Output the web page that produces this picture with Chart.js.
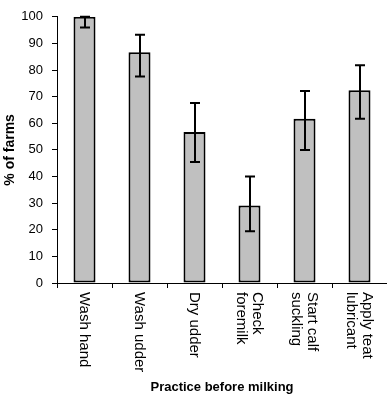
<!DOCTYPE html>
<html>
<head>
<meta charset="utf-8">
<script src="https://cdn.jsdelivr.net/npm/chart.js@4/dist/chart.umd.min.js"></script>
<style>
  html, body { margin: 0; padding: 0; background: #fff; }
  #wrap { width: 387px; height: 395px; }
</style>
</head>
<body>
<div id="wrap"><canvas id="grafico"></canvas></div>
<script>
// data
const categories = [['Wash hand'], ['Wash udder'], ['Dry udder'], ['Check', 'foremilk'], ['Start calf', 'suckling'], ['Apply teat', 'lubricant']];
const farmPct = [100, 86.7, 56.7, 29.1, 61.7, 72.4];
const errLow = [96, 77.6, 45.5, 19.4, 50, 61.7];
const errHigh = [100, 93.3, 67.6, 40, 72.1, 81.8];
const yTicks = [0, 10, 20, 30, 40, 50, 60, 70, 80, 90, 100];

const FONT = "Arial, 'Liberation Sans', sans-serif";
const NARROW = "'Liberation Sans Narrow', 'Arial Narrow', Arial, sans-serif";

// whiskers with caps
const errorBars = {
  id: 'errorBars',
  afterDatasetsDraw(chart) {
    const ctx = chart.ctx;
    const y = chart.scales.y;
    const meta = chart.getDatasetMeta(0);
    ctx.save();
    ctx.strokeStyle = '#000';
    ctx.lineWidth = 2;
    meta.data.forEach((bar, i) => {
      const x = Math.round(bar.x);
      const yLo = y.getPixelForValue(errLow[i]);
      const yHi = y.getPixelForValue(errHigh[i]);
      ctx.beginPath();
      ctx.moveTo(x, yLo); ctx.lineTo(x, yHi);
      ctx.moveTo(x - 5, yLo); ctx.lineTo(x + 5, yLo);
      ctx.moveTo(x - 5, yHi); ctx.lineTo(x + 5, yHi);
      ctx.stroke();
    });
    ctx.restore();
  }
};

// category labels turned clockwise, read top to bottom
const verticalLabels = {
  id: 'verticalLabels',
  afterDraw(chart) {
    const ctx = chart.ctx;
    const xs = chart.scales.x;
    const lineH = 16;
    ctx.save();
    ctx.fillStyle = '#000';
    ctx.font = '15px ' + FONT;
    ctx.textAlign = 'left';
    ctx.textBaseline = 'middle';
    categories.forEach((lines, i) => {
      const x = xs.getPixelForTick(i);
      ctx.save();
      ctx.translate(x, chart.chartArea.bottom + 9);
      ctx.rotate(Math.PI / 2);
      lines.forEach((txt, j) => {
        ctx.fillText(txt, 0, (j - (lines.length - 1) / 2) * lineH);
      });
      ctx.restore();
    });
    ctx.restore();
  }
};

const config = {
  type: 'bar',
  data: {
    labels: categories.map(l => l.join(' ')),
    datasets: [{
      data: farmPct,
      backgroundColor: '#c0c0c0',
      borderColor: '#000',
      borderWidth: 2,
      borderSkipped: false,
      barPercentage: 0.4,
      categoryPercentage: 1.0
    }]
  },
  options: {
    responsive: true,
    maintainAspectRatio: false,
    animation: false,
    layout: { padding: { top: 9, right: 0, left: 0, bottom: 0 } },
    scales: {
      x: {
        grid: { drawOnChartArea: false, drawTicks: true, tickLength: 5, color: '#000', offset: true },
        border: { color: '#000', width: 1 },
        ticks: { display: false },
        title: {
          display: true,
          text: 'Practice before milking',
          color: '#000',
          font: { family: FONT, size: 13, weight: 'bold', lineHeight: 1.1 },
          padding: { top: 0, bottom: 0 }
        },
        afterFit(scale) { scale.height = 112; }
      },
      y: {
        min: 0,
        max: 100,
        afterBuildTicks(scale) { scale.ticks = yTicks.map(v => ({ value: v })); },
        grid: { drawOnChartArea: false, drawTicks: true, tickLength: 5, color: '#000' },
        border: { color: '#000', width: 1 },
        ticks: {
          color: '#000',
          padding: 9,
          font: { family: NARROW, size: 13 }
        },
        title: {
          display: true,
          text: '% of farms',
          color: '#000',
          font: { family: FONT, size: 14, weight: 'bold' },
          padding: { top: 2, bottom: 0 }
        },
        afterFit(scale) { scale.width = 57; }
      }
    },
    plugins: {
      legend: { display: false },
      tooltip: { enabled: false }
    }
  },
  plugins: [errorBars, verticalLabels]
};

new Chart(document.getElementById('grafico').getContext('2d'), config);
</script>
</body>
</html>
